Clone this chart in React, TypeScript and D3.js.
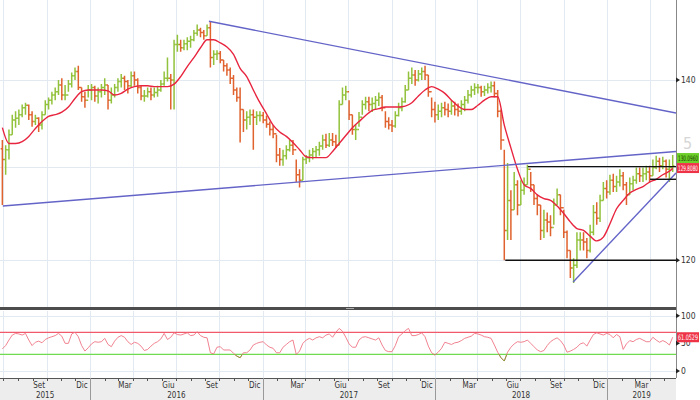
import React, { useEffect, useRef } from 'react';
import * as d3 from 'd3';

// weekly OHLC, first bar = week of 29 Jun 2015
const firstWeek = '2015-06-29';
const firstOpen = 132.0;

const high = [
  133.0, 132.4, 134.2, 135.9, 136.3, 136.5, 137.1, 137.3, 137.1, 136.3,
  135.9, 135.6, 136.3, 137.6, 137.9, 138.6, 139.1, 140.0, 140.2, 139.4,
  140.0, 140.9, 141.5, 141.7, 139.1, 138.6, 139.4, 139.5, 139.3, 139.1,
  139.5, 140.2, 139.4, 139.1, 139.5, 140.2, 140.7, 140.5, 140.0, 141.0,
  141.0, 140.2, 139.3, 138.8, 139.1, 139.1, 139.1, 139.3, 140.0, 141.0,
  142.7, 140.7, 144.9, 145.5, 144.9, 144.9, 145.2, 145.4, 146.1, 146.8,
  146.4, 146.1, 146.8, 147.2, 143.6, 143.6, 143.5, 142.4, 142.0, 141.5,
  140.6, 139.1, 139.1, 136.5, 136.3, 136.5, 136.5, 136.3, 136.3, 136.2,
  135.8, 135.1, 134.7, 133.6, 132.1, 131.9, 132.4, 133.0, 133.0, 130.8,
  129.7, 131.1, 131.3, 131.9, 132.1, 132.3, 132.8, 133.6, 133.7, 133.8,
  133.8, 133.6, 137.6, 139.1, 139.3, 137.6, 135.9, 134.7, 136.2, 137.6,
  138.0, 138.0, 137.9, 138.1, 138.5, 138.2, 136.3, 135.6, 135.3, 136.3,
  137.3, 137.9, 139.4, 141.0, 141.5, 141.2, 141.2, 141.5, 141.7, 140.6,
  137.9, 137.4, 137.1, 137.3, 137.4, 137.2, 137.6, 137.4, 137.2, 137.6,
  138.1, 138.8, 139.3, 139.6, 139.5, 139.3, 139.3, 139.6, 139.8, 139.8,
  138.8, 136.5, 131.9, 130.4, 127.4, 129.4, 128.5, 128.5, 128.8, 130.2,
  129.4, 128.0, 126.9, 125.8, 125.3, 125.0, 124.7, 126.5, 127.6, 126.9,
  125.3, 123.1, 121.0, 120.2, 122.9, 122.9, 122.9, 122.3, 123.7, 125.8,
  126.1, 126.9, 128.3, 128.5, 129.1, 129.2, 129.0, 129.7, 129.4, 128.3,
  128.8, 129.0, 129.9, 129.9, 129.9, 130.1, 130.1, 130.8, 131.2, 131.0,
  131.1, 130.8, 130.8, 131.3,
];

const low = [
  125.8, 129.1, 130.8, 133.6, 134.4, 134.7, 135.6, 135.9, 135.3, 134.5,
  134.7, 133.9, 134.2, 135.9, 136.5, 137.1, 137.6, 138.2, 137.6, 137.6,
  138.6, 139.1, 140.0, 138.8, 137.4, 136.7, 137.9, 137.6, 137.4, 137.2,
  137.9, 138.2, 136.5, 137.2, 137.9, 138.6, 139.1, 138.8, 138.4, 139.1,
  139.3, 138.4, 137.6, 137.4, 137.9, 137.6, 137.9, 138.0, 138.6, 139.3,
  139.8, 136.5, 136.5, 143.4, 143.4, 143.6, 143.6, 143.9, 144.7, 145.4,
  145.2, 144.9, 145.4, 141.5, 141.8, 142.4, 142.0, 141.0, 140.5, 139.5,
  138.2, 137.4, 132.7, 133.9, 134.2, 134.7, 131.9, 134.7, 135.1, 134.9,
  134.4, 133.5, 133.2, 130.5, 130.1, 130.1, 130.8, 131.7, 131.3, 128.3,
  127.7, 128.5, 130.3, 130.5, 130.8, 131.0, 131.2, 131.9, 132.1, 132.2,
  132.3, 132.1, 132.4, 137.1, 137.6, 135.3, 133.6, 133.0, 134.5, 135.9,
  136.5, 136.3, 136.2, 136.5, 136.9, 136.3, 134.4, 134.2, 133.9, 134.4,
  135.7, 136.3, 137.3, 138.8, 139.5, 139.3, 139.8, 140.0, 140.0, 138.0,
  135.6, 135.0, 135.3, 135.6, 135.8, 135.6, 135.9, 135.8, 135.7, 135.9,
  136.3, 137.2, 137.9, 138.2, 138.4, 138.0, 138.1, 138.4, 138.5, 137.9,
  135.6, 131.9, 120.0, 122.1, 122.1, 125.3, 124.7, 125.8, 126.9, 128.0,
  127.2, 125.8, 124.7, 122.1, 122.3, 122.9, 122.5, 123.7, 125.8, 124.7,
  122.3, 120.2, 118.2, 117.7, 119.2, 121.0, 121.0, 120.2, 120.8, 122.6,
  123.7, 124.0, 126.3, 126.5, 126.9, 127.2, 127.2, 127.8, 127.4, 125.8,
  126.9, 127.4, 128.1, 128.3, 128.3, 128.5, 128.3, 129.0, 129.7, 129.4,
  129.7, 128.8, 128.3, 129.4,
];

const close = [
  130.8, 131.9, 133.6, 135.3, 135.5, 135.9, 136.7, 137.0, 135.9, 135.1,
  135.5, 134.7, 135.9, 137.1, 137.6, 138.2, 138.6, 139.4, 138.2, 138.2,
  139.5, 140.5, 141.0, 139.1, 138.0, 137.6, 138.8, 139.1, 138.1, 138.6,
  139.1, 139.4, 137.6, 138.2, 139.1, 139.8, 140.2, 139.8, 139.3, 140.5,
  140.0, 139.1, 138.1, 138.1, 138.6, 138.2, 138.5, 138.8, 139.5, 140.2,
  140.2, 140.0, 144.3, 144.3, 143.9, 144.4, 144.7, 144.9, 145.7, 146.1,
  145.8, 145.4, 146.4, 142.7, 143.1, 143.2, 142.4, 141.7, 141.2, 140.2,
  138.8, 137.9, 136.5, 135.3, 135.6, 135.9, 135.6, 135.8, 135.8, 135.3,
  134.8, 134.2, 133.7, 131.3, 130.8, 131.2, 131.9, 132.4, 131.9, 129.1,
  128.5, 130.8, 131.0, 131.3, 131.7, 131.9, 132.3, 133.0, 132.4, 133.0,
  132.8, 132.4, 137.1, 138.2, 138.6, 135.9, 134.2, 134.2, 135.6, 137.1,
  137.4, 137.1, 137.2, 137.6, 137.9, 136.7, 135.1, 134.7, 134.6, 135.8,
  136.7, 137.4, 138.8, 140.2, 140.6, 140.0, 140.7, 141.0, 140.6, 138.6,
  136.5, 135.9, 136.3, 136.7, 136.5, 136.3, 136.9, 136.5, 136.3, 137.1,
  137.6, 138.2, 138.8, 139.1, 139.1, 138.6, 138.8, 139.1, 139.3, 138.4,
  136.3, 133.0, 123.1, 126.3, 125.3, 128.0, 125.8, 127.4, 128.0, 129.7,
  128.0, 126.5, 125.8, 123.1, 124.2, 124.0, 123.4, 125.8, 126.9, 125.5,
  122.9, 121.0, 119.2, 119.5, 122.1, 122.1, 121.9, 121.0, 122.9, 125.0,
  124.4, 126.3, 127.6, 127.2, 128.5, 127.8, 128.3, 129.0, 128.0, 126.9,
  128.1, 128.5, 129.2, 129.0, 129.2, 129.4, 129.0, 129.9, 130.6, 130.1,
  130.6, 129.7, 129.9, 130.096,
];

// moving average, one reading every second week, last one = last bar
const movingAvg = [
  134.4, 132.6, 132.6, 132.8, 133.4, 134.3, 135.1, 135.7, 135.9, 136.2,
  136.8, 137.8, 138.6, 138.8, 138.8, 138.8, 138.7, 138.2, 138.4, 138.9,
  139.2, 139.3, 139.3, 139.2, 139.2, 139.2, 139.5, 140.4, 141.6, 142.7,
  143.9, 144.9, 144.9, 144.5, 144.0, 143.1, 141.4, 140.4, 138.8, 137.3,
  136.0, 134.7, 133.9, 133.4, 132.7, 131.9, 131.1, 131.0, 131.0, 131.0,
  131.7, 132.6, 133.5, 134.4, 135.1, 135.8, 136.4, 136.6, 136.8, 136.8,
  136.8, 136.9, 137.3, 138.1, 138.8, 139.2, 138.9, 138.4, 137.6, 136.9,
  136.5, 136.5, 137.0, 137.6, 138.0, 138.0, 134.7, 132.1, 129.7, 128.0,
  127.6, 126.9, 126.5, 126.3, 125.7, 124.9, 124.0, 123.3, 123.1, 122.5,
  122.0, 122.4, 123.8, 125.4, 126.3, 127.1, 127.5, 127.8, 128.3, 128.6,
  129.1, 129.5, 129.808,
];

// RSI, weekly
const rsi = [
  40, 46, 56, 65, 68, 67, 65, 68, 56, 46,
  52, 54, 51, 57, 60, 62, 64, 68, 63, 50,
  50, 67, 70, 62, 46, 36, 42, 49, 53, 52,
  53, 59, 48, 44, 54, 61, 64, 61, 53, 48,
  52, 50, 45, 37, 39, 45, 50, 53, 58, 68,
  57, 61, 69, 66, 65, 67, 69, 64, 65, 71,
  64, 61, 60, 33, 31, 43, 44, 38, 38, 38,
  32, 27, 24, 33, 33, 38, 47, 50, 52, 53,
  47, 43, 41, 33, 33, 43, 48, 53, 56, 30,
  36, 50, 56, 59, 56, 60, 62, 60, 65, 67,
  61, 70, 77, 72, 61, 49, 43, 43, 56, 61,
  62, 60, 58, 56, 60, 47, 37, 35, 35, 46,
  62, 67, 73, 77, 64, 64, 66, 69, 62, 45,
  33, 29, 34, 41, 52, 50, 48, 51, 52, 55,
  59, 61, 63, 68, 67, 65, 62, 61, 59, 47,
  34, 24, 18, 34, 43, 49, 53, 52, 53, 56,
  50, 44, 38, 35, 37, 46, 53, 57, 60, 55,
  47, 34, 36, 39, 43, 49, 51, 45, 56, 66,
  69, 67, 65, 68, 66, 60, 66, 62, 39, 49,
  55, 53, 57, 59, 56, 53, 53, 61, 56, 52,
  55, 52, 47, 61.05,
];

const priceGridValues = [150, 140, 130, 120];
const priceTickValues = [140, 120];
const rsiTickValues = [100, 50, 0];
const rsiUpper = 70;
const rsiLower = 30;

const monthNames = ['Gen', 'Feb', 'Mar', 'Apr', 'Mag', 'Giu', 'Lug', 'Ago', 'Set', 'Ott', 'Nov', 'Dic'];

const trendLines = [
  { d0: '2016-09-09', v0: 147.2, d1: '2019-05-27', v1: 136.1 },
  { d0: '2015-06-30', v0: 125.7, d1: '2019-05-27', v1: 131.7 },
  { d0: '2018-10-21', v0: 117.8, d1: '2019-05-27', v1: 129.3 },
];

const levelLines = [
  { d0: '2018-07-17', d1: '2019-05-27', v: 130.0 },
  { d0: '2018-05-30', d1: '2019-05-27', v: 120.0 },
  { d0: '2019-04-02', d1: '2019-05-27', v: 128.6 },
];

const lastPriceText = '130.0960';
const lastMaText = '129.8080';
const lastRsiText = '61.0529';

const App: React.FC = () => {
  const svgRef = useRef<SVGSVGElement>(null);

  useEffect(() => {
    if (!svgRef.current) return;
    const svg = d3.select(svgRef.current);
    svg.selectAll('*').remove();

    const parse = d3.timeParse('%Y-%m-%d');
    const plotRight = 676;
    const mainBottom = 307;
    const rsiTop = 311, rsiBottom = 378;
    const font = "'DejaVu Sans Condensed','Liberation Sans Narrow','DejaVu Sans',sans-serif";

    const x = d3.scaleTime()
      .domain([parse('2015-06-24')!, parse('2019-05-27')!])
      .range([0, plotRight]);
    const y = d3.scaleLog().domain([115.3, 149.9]).range([mainBottom, 0]);
    const yr = d3.scaleLinear().domain([0, 100]).range([371, 315.7]);

    const start = parse(firstWeek)!;
    const dates = close.map((_, i) => d3.timeDay.offset(start, 7 * i));
    const bars = close.map((c, i) => ({
      date: dates[i], open: i ? close[i - 1] : firstOpen, high: high[i], low: low[i], close: c
    }));
    const maData = movingAvg.map((v, k) => ({
      date: k < movingAvg.length - 1 ? dates[2 * k] : dates[dates.length - 1], value: v
    }));
    const rsiData = rsi.map((v, i) => ({ date: dates[i], value: v }));

    svg.append('rect').attr('width', 700).attr('height', 400).attr('fill', '#fff');

    // clip paths
    const defs = svg.append('defs');
    defs.append('clipPath').attr('id', 'clipMain')
      .append('rect').attr('x', 0).attr('y', 0).attr('width', plotRight).attr('height', mainBottom);
    defs.append('clipPath').attr('id', 'clipRsi')
      .append('rect').attr('x', 0).attr('y', rsiTop).attr('width', plotRight).attr('height', rsiBottom - rsiTop);
    defs.append('clipPath').attr('id', 'clipLow')
      .append('rect').attr('x', 0).attr('y', yr(rsiLower)).attr('width', plotRight).attr('height', rsiBottom - yr(rsiLower));

    // grid
    const quarters = d3.timeMonth.every(3)!.range(x.domain()[0], x.domain()[1]);
    const grid = svg.append('g').attr('stroke', '#e3e9f0').attr('stroke-width', 1);
    quarters.forEach(d => {
      const xx = Math.round(x(d)) + 0.5;
      grid.append('line').attr('x1', xx).attr('x2', xx).attr('y1', 0).attr('y2', mainBottom);
      grid.append('line').attr('x1', xx).attr('x2', xx).attr('y1', rsiTop).attr('y2', rsiBottom);
    });
    priceGridValues.forEach(v => {
      const yy = Math.round(y(v)) + 0.5;
      grid.append('line').attr('x1', 0).attr('x2', plotRight).attr('y1', yy).attr('y2', yy);
    });
    [100, 0].forEach(v => {
      const yy = Math.round(yr(v)) + 0.5;
      grid.append('line').attr('x1', 0).attr('x2', plotRight).attr('y1', yy).attr('y2', yy);
    });

    // price bars
    const gBars = svg.append('g').attr('clip-path', 'url(#clipMain)');
    gBars.selectAll('path.bar')
      .data(bars)
      .enter()
      .append('path')
      .attr('class', 'bar')
      .attr('fill', 'none')
      .attr('stroke', d => (d.close >= d.open ? '#92c23c' : '#e0622e'))
      .attr('stroke-width', 1.5)
      .attr('d', d => {
        const xx = x(d.date);
        return `M${xx},${y(d.high)}V${y(d.low)}M${xx - 1.7},${y(d.open)}H${xx}M${xx},${y(d.close)}H${xx + 1.7}`;
      });

    // moving average
    const maLine = d3.line<{ date: Date; value: number }>()
      .x(d => x(d.date))
      .y(d => y(d.value))
      .curve(d3.curveMonotoneX);
    gBars.append('path')
      .datum(maData)
      .attr('fill', 'none')
      .attr('stroke', '#e8253f')
      .attr('stroke-width', 1.4)
      .attr('d', maLine);

    // trend lines
    trendLines.forEach(t => {
      gBars.append('line')
        .attr('x1', x(parse(t.d0)!)).attr('y1', y(t.v0))
        .attr('x2', x(parse(t.d1)!)).attr('y2', y(t.v1))
        .attr('stroke', '#6464c8')
        .attr('stroke-width', 1.4);
    });
    levelLines.forEach(l => {
      gBars.append('line')
        .attr('x1', x(parse(l.d0)!)).attr('y1', y(l.v))
        .attr('x2', x(parse(l.d1)!)).attr('y2', y(l.v))
        .attr('stroke', '#111')
        .attr('stroke-width', 1.4);
    });

    // panel separator
    svg.append('rect').attr('x', 0).attr('y', mainBottom).attr('width', plotRight).attr('height', 3).attr('fill', '#4d4d4d');
    svg.append('rect').attr('x', 346).attr('y', mainBottom + 1).attr('width', 8).attr('height', 1).attr('fill', '#aaa');

    // RSI
    svg.append('line').attr('x1', 0).attr('x2', plotRight).attr('y1', yr(rsiUpper)).attr('y2', yr(rsiUpper))
      .attr('stroke', '#f05a6a').attr('stroke-width', 1.3);
    svg.append('line').attr('x1', 0).attr('x2', plotRight).attr('y1', yr(rsiLower)).attr('y2', yr(rsiLower))
      .attr('stroke', '#6fdc50').attr('stroke-width', 1.3);
    const rsiLine = d3.line<{ date: Date; value: number }>()
      .x(d => x(d.date))
      .y(d => yr(d.value));
    svg.append('path').datum(rsiData)
      .attr('clip-path', 'url(#clipRsi)')
      .attr('fill', 'none').attr('stroke', '#ee7584').attr('stroke-width', 0.9)
      .attr('d', rsiLine);
    svg.append('path').datum(rsiData)
      .attr('clip-path', 'url(#clipLow)')
      .attr('fill', 'none').attr('stroke', '#8c9a3c').attr('stroke-width', 1)
      .attr('d', rsiLine);

    // x axis area
    svg.append('rect').attr('x', 0).attr('y', rsiBottom).attr('width', plotRight).attr('height', 400 - rsiBottom).attr('fill', '#ededed');
    svg.append('line').attr('x1', 0).attr('x2', plotRight).attr('y1', rsiBottom + 0.5).attr('y2', rsiBottom + 0.5)
      .attr('stroke', '#555');
    const months = d3.timeMonth.range(x.domain()[0], x.domain()[1]);
    months.forEach(m => {
      const xx = Math.round(x(m)) + 0.5;
      svg.append('line').attr('x1', xx).attr('x2', xx).attr('y1', rsiBottom).attr('y2', rsiBottom + 3)
        .attr('stroke', '#555');
      if (m.getMonth() % 3 === 2) {
        svg.append('text')
          .attr('x', x(d3.timeDay.offset(m, 14)))
          .attr('y', rsiBottom + 10)
          .attr('text-anchor', 'middle')
          .attr('font-family', font)
          .attr('font-size', 8)
          .attr('fill', '#333')
          .text(monthNames[m.getMonth()]);
      }
    });
    const years = d3.timeYear.range(d3.timeYear.floor(x.domain()[0]), x.domain()[1]);
    years.forEach(yStart => {
      const a = Math.max(x(yStart), 0);
      const b = Math.min(x(d3.timeYear.offset(yStart, 1)), plotRight);
      if (yStart > x.domain()[0]) {
        const xx = Math.round(x(yStart)) + 0.5;
        svg.append('line').attr('x1', xx).attr('x2', xx).attr('y1', rsiBottom).attr('y2', 400)
          .attr('stroke', '#999');
      }
      svg.append('text')
        .attr('x', (a + b) / 2)
        .attr('y', rsiBottom + 20)
        .attr('text-anchor', 'middle')
        .attr('font-family', font)
        .attr('font-size', 8)
        .attr('fill', '#333')
        .text(String(yStart.getFullYear()));
    });

    // right axis
    svg.append('line').attr('x1', plotRight + 0.5).attr('x2', plotRight + 0.5).attr('y1', 0).attr('y2', rsiBottom)
      .attr('stroke', '#888');
    const tick = (yy: number, label: string) => {
      svg.append('path')
        .attr('d', `M${plotRight},${yy - 2.5}L${plotRight + 4},${yy}L${plotRight},${yy + 2.5}Z`)
        .attr('fill', '#222');
      svg.append('text')
        .attr('x', plotRight + 5)
        .attr('y', yy + 3)
        .attr('font-family', font)
        .attr('font-size', 8.5)
        .attr('fill', '#333')
        .text(label);
    };
    priceTickValues.forEach(v => tick(y(v), String(v)));
    rsiTickValues.forEach(v => tick(yr(v), String(v)));

    svg.append('text')
      .attr('x', 683).attr('y', 149)
      .attr('font-family', font)
      .attr('font-size', 16)
      .attr('fill', '#d6d6d6')
      .text('5');

    // last value labels
    const boxH = 10;
    const boxW = 22;
    const yP = y(close[close.length - 1]);
    const yM = y(movingAvg[movingAvg.length - 1]);
    let topP = yP - boxH / 2, topM = yM - boxH / 2;
    if (Math.abs(yP - yM) < boxH) {
      const mid = (yP + yM) / 2;
      topP = mid - boxH - 4;
      topM = mid - 4;
    }
    const valueBox = (top: number, fill: string, color: string, label: string) => {
      svg.append('rect').attr('x', plotRight + 1).attr('y', top).attr('width', boxW).attr('height', boxH).attr('fill', fill);
      svg.append('text')
        .attr('x', plotRight + 2)
        .attr('y', top + 7.6)
        .attr('textLength', boxW - 2)
        .attr('lengthAdjust', 'spacingAndGlyphs')
        .attr('font-family', font)
        .attr('font-size', 7.5)
        .attr('fill', color)
        .text(label);
    };
    valueBox(topP, '#6ccf2a', '#1a3a00', lastPriceText);
    valueBox(topM, '#ee3347', '#fff', lastMaText);
    valueBox(yr(rsi[rsi.length - 1]) - 5, '#ee3347', '#fff', lastRsiText);
  }, []);

  return (
    <div style={{ position: 'absolute', left: 0, top: 0, width: 700, height: 400 }}>
      <svg ref={svgRef} width={700} height={400} style={{ display: 'block' }} />
    </div>
  );
};

export default App;
